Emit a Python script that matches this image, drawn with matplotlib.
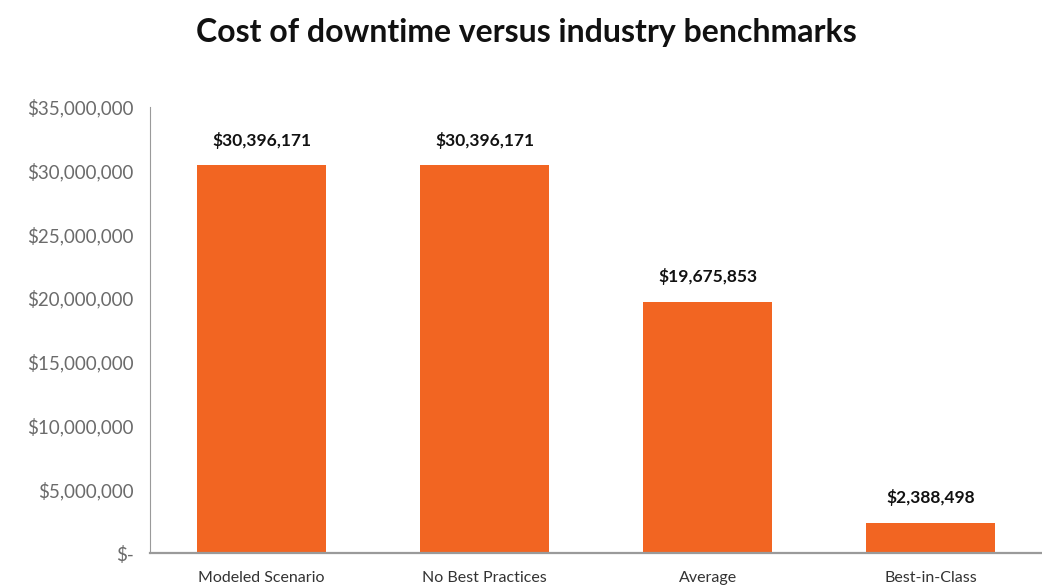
import matplotlib.pyplot as plt
from matplotlib.ticker import FuncFormatter

# 数据
categories = ['Modeled Scenario', 'No Best Practices', 'Average', 'Best-in-Class']
costs = [30396171, 30396171, 19675853, 2388498]
y_ticks = [0, 5000000, 10000000, 15000000, 20000000, 25000000, 30000000, 35000000]

bar_color = '#F26522'
grey = '#6b6b6b'

plt.rcParams['font.family'] = ['Lato', 'DejaVu Sans']

fig = plt.figure(figsize=(10.42, 5.88), dpi=100)
ax = fig.add_axes([0.144, 0.0595, 0.856, 0.759])

x = range(len(categories))
bars = ax.bar(x, costs, width=0.58, color=bar_color)

# 柱顶数值标签
for b, v in zip(bars, costs):
    ax.annotate('${:,}'.format(v), (b.get_x() + b.get_width() / 2, v),
                xytext=(0, 12), textcoords='offset points',
                ha='center', va='bottom', fontsize=12.5, fontweight='bold', color='#111111')

ax.set_xlim(-0.5, 3.5)
ax.set_ylim(0, 35000000)
ax.set_yticks(y_ticks)
ax.yaxis.set_major_formatter(FuncFormatter(lambda v, p: '$-' if v == 0 else '${:,.0f}'.format(v)))
ax.set_xticks(list(x))
ax.set_xticklabels(categories)

ax.tick_params(axis='y', length=0, pad=12, labelsize=13.5, labelcolor=grey)
ax.tick_params(axis='x', length=0, pad=13, labelsize=11.5, labelcolor='#333333')

for s in ['top', 'right']:
    ax.spines[s].set_visible(False)
ax.spines['left'].set_color('#9a9a9a')
ax.spines['bottom'].set_color('#9a9a9a')
ax.spines['bottom'].set_linewidth(1.6)

fig.text(0.505, 0.945, 'Cost of downtime versus industry benchmarks',
         ha='center', va='center', fontsize=23, fontweight='bold', color='#111111')

fig.savefig('out.png', dpi=100, facecolor='white')
